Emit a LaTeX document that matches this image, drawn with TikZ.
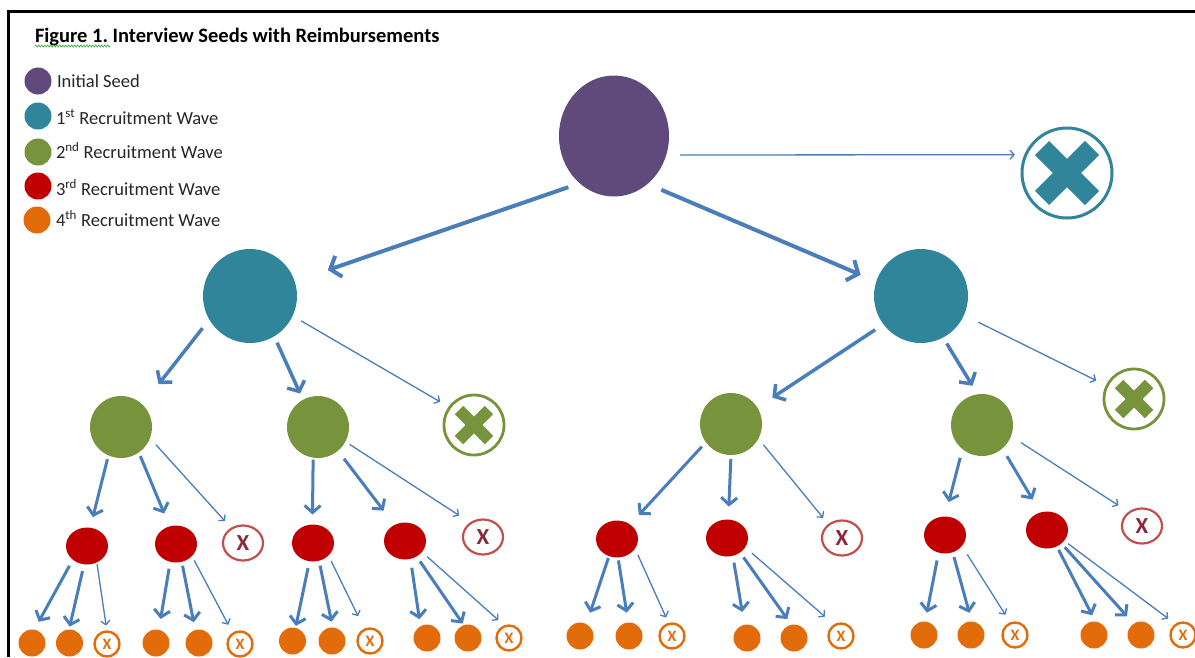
\documentclass[tikz,border=0pt]{standalone}
\usepackage{fontspec}
\setmainfont{Carlito}
\usetikzlibrary{arrows.meta,shapes.geometric,decorations.pathmorphing}
\definecolor{seedc}{RGB}{96,74,123}
\definecolor{tealc}{RGB}{49,133,155}
\definecolor{greenc}{RGB}{119,147,60}
\definecolor{redc}{RGB}{192,0,0}
\definecolor{orangec}{RGB}{227,108,10}
\definecolor{xredc}{RGB}{192,80,77}
\definecolor{xtextc}{RGB}{140,40,60}
\definecolor{arrc}{RGB}{74,126,187}
\definecolor{squig}{RGB}{70,170,70}
\frenchspacing
\begin{document}
\begin{tikzpicture}[x=1pt,y=-1pt,
  every node/.style={inner sep=0pt,outer sep=0pt},
  seed/.style={ellipse,fill=seedc,minimum width=110pt,minimum height=121pt},
  wone/.style={circle,fill=tealc,minimum size=94pt},
  wtwo/.style={circle,fill=greenc,minimum size=62pt},
  wthree/.style={ellipse,fill=redc,minimum width=42pt,minimum height=37pt},
  wfour/.style={circle,fill=orangec,minimum size=27pt},
  xbig/.style={circle,draw=tealc,line width=3pt,minimum size=90pt},
  xmid/.style={circle,draw=greenc,line width=2.8pt,minimum size=60pt},
  xred/.style={ellipse,draw=xredc,line width=2.2pt,minimum width=40pt,minimum height=35pt,font=\bfseries\fontsize{23}{23}\selectfont,text=xtextc},
  xor/.style={circle,draw=orangec,line width=2.4pt,minimum size=25pt,font=\bfseries\fontsize{16}{16}\selectfont,text=orangec},
  leg/.style={circle,minimum size=27pt},
  legtext/.style={anchor=base west,font=\fontsize{18.5}{20}\selectfont,text=black!85},
  big/.style={draw=arrc,line width=4pt,-{Straight Barb[length=9pt,width=22pt]}},
  mid/.style={draw=arrc,line width=3.5pt,-{Straight Barb[length=8pt,width=19pt]}},
  sml/.style={draw=arrc,line width=3pt,-{Straight Barb[length=7pt,width=16pt]}},
  thin/.style={draw=arrc,line width=1.3pt,-{Straight Barb[length=4pt,width=9pt]}},
]
\useasboundingbox (0,0) rectangle (1195,657);
\fill[white] (0,0) rectangle (1195,657);
% frame
\draw[line width=2.8pt] (8.6,657) -- (8.6,11.2) -- (1195,11.2);
% title
\node[anchor=base west,font=\bfseries\fontsize{20.5}{22}\selectfont] (title) at (35,42) {Figure 1. Interview Seeds with Reimbursements};
\draw[squig,line width=0.7pt,decorate,decoration={zigzag,segment length=3pt,amplitude=1pt}] (35,46) -- (110,46);
% legend
\node[leg,fill=seedc] (l0) at (38,81) {};
\node[leg,fill=tealc] (l1) at (38,116) {};
\node[leg,fill=greenc] (l2) at (38,152) {};
\node[leg,fill=redc] (l3) at (38,186) {};
\node[leg,fill=orangec] (l4) at (37,220) {};
\node[legtext] (t0) at (57,87) {Initial Seed};
\node[legtext] (t1l) at (56,124) {1\textsuperscript{st} Recruitment Wave};
\node[legtext] (t2l) at (56,158) {2\textsuperscript{nd} Recruitment Wave};
\node[legtext] (t3l) at (56,195) {3\textsuperscript{rd} Recruitment Wave};
\node[legtext] (t4l) at (56,226) {4\textsuperscript{th} Recruitment Wave};
% main nodes
\node[seed] (s) at (614,136) {};
\node[xbig] (xb) at (1067,173) {};
\draw[tealc,line width=20pt] ([shift={(-25,-25)}]xb.center) -- ([shift={(25,25)}]xb.center);
\draw[tealc,line width=20pt] ([shift={(-25,25)}]xb.center) -- ([shift={(25,-25)}]xb.center);
\node[wone] (t1) at (250,296) {};
\node[wone] (t2) at (921,296) {};
\node[xmid] (xg1) at (474,425) {};
\node[xmid] (xg2) at (1134,399) {};
\foreach \n in {xg1,xg2}{
  \draw[greenc,line width=12pt] ([shift={(-15,-15)}]\n.center) -- ([shift={(15,15)}]\n.center);
  \draw[greenc,line width=12pt] ([shift={(-15,15)}]\n.center) -- ([shift={(15,-15)}]\n.center);
}
\node[wtwo] (g1) at (121,427) {};
\node[wtwo] (g2) at (318,427) {};
\node[wtwo] (g3) at (731,424) {};
\node[wtwo] (g4) at (982,425) {};
\node[wthree] (r1) at (87,546) {};
\node[wthree] (r2) at (176,544) {};
\node[wthree] (r3) at (313,543) {};
\node[wthree] (r4) at (405,541) {};
\node[wthree] (r5) at (617,539) {};
\node[wthree] (r6) at (727,538) {};
\node[wthree] (r7) at (945,535) {};
\node[wthree] (r8) at (1047,530) {};
\node[xred] (x1) at (243,543) {X};
\node[xred] (x2) at (483,537) {X};
\node[xred] (x3) at (842,538) {X};
\node[xred] (x4) at (1142,526) {X};
\node[wfour] (o1) at (32,643) {};
\node[wfour] (o2) at (69.5,643) {};
\node[xor] (ox1) at (107,644) {X};
\node[wfour] (o3) at (156,643) {};
\node[wfour] (o4) at (199,643) {};
\node[xor] (ox2) at (240,644) {X};
\node[wfour] (o5) at (292.5,641) {};
\node[wfour] (o6) at (332,641) {};
\node[xor] (ox3) at (370,641) {X};
\node[wfour] (o7) at (427,638) {};
\node[wfour] (o8) at (468,638) {};
\node[xor] (ox4) at (509,638) {X};
\node[wfour] (o9) at (580,636) {};
\node[wfour] (o10) at (629,636) {};
\node[xor] (ox5) at (672,636) {X};
\node[wfour] (o11) at (747,638) {};
\node[wfour] (o12) at (794,638) {};
\node[xor] (ox6) at (841,636) {X};
\node[wfour] (o13) at (924,635) {};
\node[wfour] (o14) at (971,635) {};
\node[xor] (ox7) at (1015,635) {X};
\node[wfour] (o15) at (1094,635) {};
\node[wfour] (o16) at (1141,635) {};
\node[xor] (ox8) at (1183,635) {X};
% connectors level 0-1
\draw[big,shorten <=12pt,shorten >=35pt] (s.234) -- (t1.18);
\draw[big,shorten <=15pt,shorten >=17pt] (s.305) -- (t2.162);
\draw[thin,shorten <=14pt,shorten >=11pt] (s.340) -- (xb.156);
% level 1-2
\draw[thin,shorten <=10pt,shorten >=11pt] (t1.335) -- (xg1.144);
\draw[mid,shorten <=11pt,shorten >=26pt] (t1.210) -- (g1.46);
\draw[mid,shorten <=7pt,shorten >=7pt] (t1.301) -- (g2.119);
\draw[mid,shorten <=10pt,shorten >=18pt] (t2.217) -- (g3.32);
\draw[mid,shorten <=7pt,shorten >=10pt] (t2.298) -- (g4.98);
\draw[thin,shorten <=16pt,shorten >=12pt] (t2.336) -- (xg2.154);
% level 2-3
\draw[sml,shorten <=4pt,shorten >=11pt] (g1.246) -- (r1.80);
\draw[sml,shorten <=4pt,shorten >=14pt] (g1.305) -- (r2.110);
\draw[thin,shorten <=9pt,shorten >=10pt] (g1.339) -- (x1.128);
\draw[sml,shorten <=2pt,shorten >=10pt] (g2.261) -- (r3.92);
\draw[sml,shorten <=10pt,shorten >=18pt] (g2.310) -- (r4.123);
\draw[thin,shorten <=5pt,shorten >=14pt] (g2.332) -- (x2.131);
\draw[sml,shorten <=6pt,shorten >=13pt] (g3.216) -- (r5.48);
\draw[sml,shorten <=4pt,shorten >=13pt] (g3.270) -- (r6.86);
\draw[thin,shorten <=8pt,shorten >=9pt] (g3.332) -- (x3.135);
\draw[sml,shorten <=9pt,shorten >=15pt] (g4.231) -- (r7.90);
\draw[sml,shorten <=9pt,shorten >=15pt] (g4.311) -- (r8.111);
\draw[thin,shorten <=12pt,shorten >=13pt] (g4.339) -- (x4.133);
% level 3-4
\draw[sml,shorten <=7pt,shorten >=9pt] (r1.224) -- (o1.80);
\draw[sml,shorten <=7pt,shorten >=3pt] (r1.261) -- (o2.92);
\draw[thin,shorten <=2pt,shorten >=6pt] (r1.301) -- (ox1.90);
\draw[sml,shorten <=7pt,shorten >=11pt] (r2.252) -- (o3.78);
\draw[sml,shorten <=4pt,shorten >=8pt] (r2.288) -- (o4.106);
\draw[thin,shorten <=5pt,shorten >=10pt] (r2.323) -- (ox2.124);
\draw[sml,shorten <=7pt,shorten >=2pt] (r3.259) -- (o5.77);
\draw[sml,shorten <=5pt,shorten >=6pt] (r3.289) -- (o6.87);
\draw[thin,shorten <=6pt,shorten >=15pt] (r3.321) -- (ox3.115);
\draw[sml,shorten <=9pt,shorten >=7pt] (r4.287) -- (o7.119);
\draw[sml,shorten <=6pt,shorten >=2pt] (r4.307) -- (o8.108);
\draw[thin,shorten <=7pt,shorten >=9pt] (r4.327) -- (ox4.108);
\draw[sml,shorten <=2pt,shorten >=12pt] (r5.245) -- (o9.62);
\draw[sml,shorten <=3pt,shorten >=10pt] (r5.273) -- (o10.93);
\draw[thin,shorten <=7pt,shorten >=7pt] (r5.332) -- (ox5.104);
\draw[sml,shorten <=7pt,shorten >=13pt] (r6.288) -- (o11.101);
\draw[sml,shorten <=6pt,shorten >=7pt] (r6.312) -- (o12.101);
\draw[thin,shorten <=9pt,shorten >=13pt] (r6.333) -- (ox6.120);
\draw[sml,shorten <=8pt,shorten >=9pt] (r7.250) -- (o13.85);
\draw[sml,shorten <=5pt,shorten >=9pt] (r7.294) -- (o14.87);
\draw[thin,shorten <=10pt,shorten >=10pt] (r7.327) -- (ox7.110);
\draw[sml,shorten <=4pt,shorten >=7pt] (r8.301) -- (o15.84);
\draw[sml,shorten <=5pt,shorten >=10pt] (r8.317) -- (o16.123);
\draw[thin,shorten <=5pt,shorten >=10pt] (r8.328) -- (ox8.123);
\end{tikzpicture}
\end{document}
